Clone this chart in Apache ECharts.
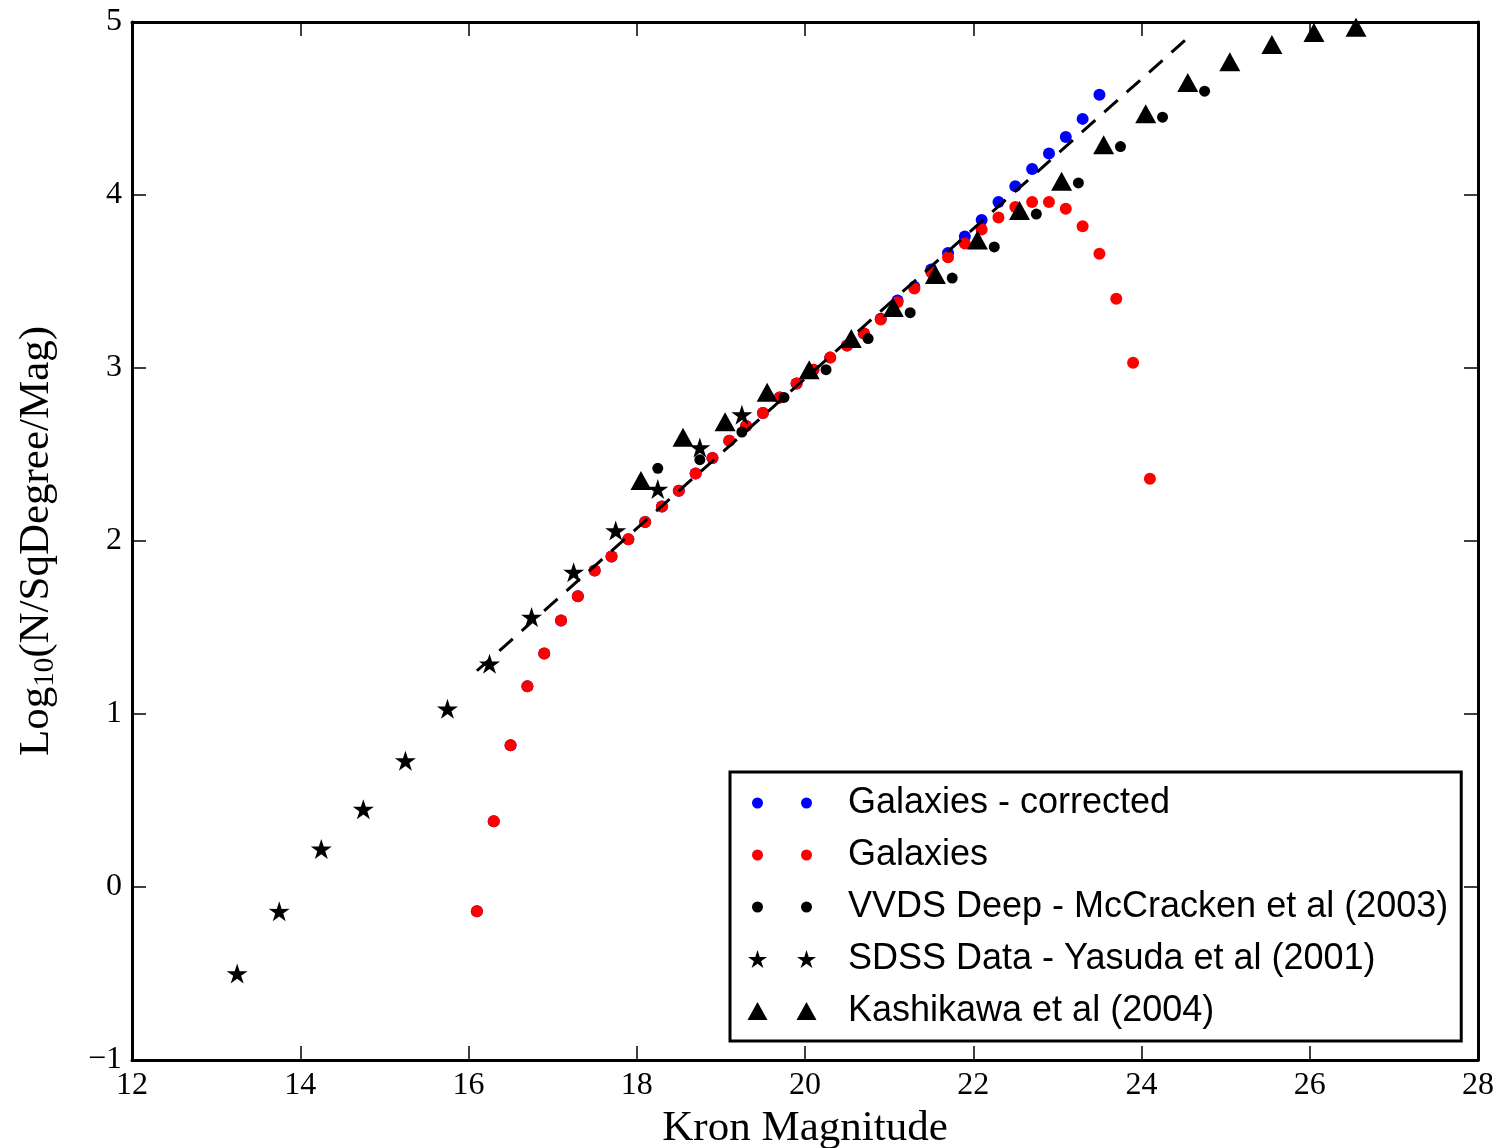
<!DOCTYPE html>
<html>
<head>
<meta charset="utf-8">
<script src="https://cdn.jsdelivr.net/npm/echarts@6/dist/echarts.min.js"></script>
<style>html,body{margin:0;padding:0;background:#fff;}#c{width:1501px;height:1148px;}</style>
</head>
<body>
<div id="c"></div>
<script>
// Galaxies (red) and corrected galaxies (blue)
const galMag = [16.1,16.3,16.5,16.7,16.9,17.1,17.3,17.5,17.7,17.9,18.1,18.3,18.5,18.7,18.9,19.1,19.3,19.5,19.7,19.9,20.1,20.3,20.5,20.7,20.9,21.1,21.3,21.5,21.7,21.9,22.1,22.3,22.5,22.7,22.9,23.1,23.3,23.5,23.7,23.9,24.1];
const galLog = [-0.14,0.38,0.82,1.16,1.35,1.54,1.68,1.83,1.91,2.01,2.11,2.20,2.29,2.39,2.48,2.58,2.665,2.74,2.83,2.91,2.99,3.06,3.13,3.20,3.28,3.38,3.46,3.555,3.64,3.72,3.80,3.87,3.93,3.96,3.96,3.92,3.82,3.66,3.40,3.03,2.36];
const corMag = [16.1,16.3,16.5,16.7,16.9,17.1,17.3,17.5,17.7,17.9,18.1,18.3,18.5,18.7,18.9,19.1,19.3,19.5,19.7,19.9,20.1,20.3,20.5,20.7,20.9,21.1,21.3,21.5,21.7,21.9,22.1,22.3,22.5,22.7,22.9,23.1,23.3,23.5];
const corLog = [-0.14,0.38,0.82,1.16,1.35,1.54,1.68,1.83,1.91,2.01,2.11,2.20,2.29,2.39,2.48,2.58,2.665,2.74,2.83,2.91,2.99,3.06,3.13,3.20,3.285,3.39,3.47,3.57,3.665,3.76,3.855,3.96,4.05,4.15,4.24,4.335,4.44,4.58];
// VVDS Deep - McCracken et al (2003)
const vvdsMag = [18.25,18.75,19.25,19.75,20.25,20.75,21.25,21.75,22.25,22.75,23.25,23.75,24.25,24.75];
const vvdsLog = [2.42,2.47,2.63,2.83,2.99,3.17,3.32,3.52,3.70,3.89,4.07,4.28,4.45,4.60];
// SDSS Data - Yasuda et al (2001)
const sdssMag = [13.25,13.75,14.25,14.75,15.25,15.75,16.25,16.75,17.25,17.75,18.25,18.75,19.25];
const sdssLog = [-0.50,-0.14,0.22,0.45,0.73,1.03,1.29,1.56,1.82,2.06,2.30,2.54,2.73];
// Kashikawa et al (2004)
const kashMag = [18.05,18.55,19.05,19.55,20.05,20.55,21.05,21.55,22.05,22.55,23.05,23.55,24.05,24.55,25.05,25.55,26.05,26.55];
const kashLog = [2.35,2.60,2.69,2.86,2.99,3.17,3.35,3.54,3.74,3.91,4.08,4.29,4.47,4.65,4.77,4.87,4.94,4.97];
// dashed fit line
const fitMag = [16.1, 24.6];
const fitLog = [1.25, 4.93];

const names = ['Galaxies - corrected','Galaxies','VVDS Deep - McCracken et al (2003)','SDSS Data - Yasuda et al (2001)','Kashikawa et al (2004)'];

function pairs(xs, ys){ return xs.map((x,i)=>[x, ys[i]]); }

const starPath = 'path://M100,0 L122.34,69.26 L195.11,69.1 L136.14,111.74 L158.78,180.9 L100,138 L41.22,180.9 L63.86,111.74 L4.89,69.1 L77.66,69.26 Z';
const legDots = 'path://M0,0 M70,20 M5,10 A5.5,5.5 0 1,0 16,10 A5.5,5.5 0 1,0 5,10 Z M54,10 A5.5,5.5 0 1,0 65,10 A5.5,5.5 0 1,0 54,10 Z';
const legTri = 'path://M0,0 M70,20 M10.5,1 L20.5,19 L0.5,19 Z M59.5,1 L69.5,19 L49.5,19 Z';
const legStar = 'path://M0,0 M70,20 M10.5,1 L12.73,7.93 L20.01,7.91 L14.11,12.17 L16.38,19.09 L10.5,14.8 L4.62,19.09 L6.89,12.17 L0.99,7.91 L8.27,7.93 Z M59.5,1 L61.73,7.93 L69.01,7.91 L63.11,12.17 L65.38,19.09 L59.5,14.8 L53.62,19.09 L55.89,12.17 L49.99,7.91 L57.27,7.93 Z';

const serif = 'Liberation Serif';
const tickStyle = {show:true, inside:true, length:14, lineStyle:{color:'#000', width:1.5}};
const lineStyle = {show:true, onZero:false, lineStyle:{color:'#000', width:3}};

const chart = echarts.init(document.getElementById('c'), null, {renderer:'canvas'});
chart.setOption({
  animation:false,
  backgroundColor:'#fff',
  grid:{left:132, top:22, width:1346, height:1038, containLabel:false, outerBoundsMode:'none'},
  xAxis:[{
    type:'value', min:12, max:28, interval:2, position:'bottom',
    axisLine:lineStyle, axisTick:tickStyle, splitLine:{show:false},
    axisLabel:{color:'#000', fontFamily:serif, fontSize:32, margin:10},
    name:'Kron Magnitude', nameLocation:'middle', nameGap:44,
    nameTextStyle:{color:'#000', fontFamily:serif, fontSize:43}
  },{
    type:'value', min:12, max:28, interval:2, position:'top',
    axisLine:lineStyle, axisTick:tickStyle, splitLine:{show:false}, axisLabel:{show:false}
  }],
  yAxis:[{
    type:'value', min:-1, max:5, interval:1, position:'left',
    axisLine:lineStyle, axisTick:tickStyle, splitLine:{show:false},
    axisLabel:{color:'#000', fontFamily:serif, fontSize:32, margin:10,
      formatter:v=>String(v).replace('-','\u2212')},
    name:'{a|Log}{s|10}{a|(N/SqDegree/Mag)}', nameLocation:'middle', nameGap:72, nameRotate:90,
    nameTextStyle:{color:'#000', fontFamily:serif, fontSize:43,
      rich:{a:{fontFamily:serif, fontSize:43, color:'#000', lineHeight:46},
            s:{fontFamily:serif, fontSize:29, color:'#000', lineHeight:30, verticalAlign:'bottom'}}}
  },{
    type:'value', min:-1, max:5, interval:1, position:'right',
    axisLine:lineStyle, axisTick:tickStyle, splitLine:{show:false}, axisLabel:{show:false}
  }],
  legend:{
    orient:'vertical', left:730, top:772, itemWidth:70, itemHeight:20, itemGap:0,
    padding:[5,13,4,17], borderColor:'#000', borderWidth:3, backgroundColor:'#fff',
    selectedMode:false, symbolKeepAspect:true,
    textStyle:{fontFamily:'Liberation Sans', fontSize:36, color:'#000', lineHeight:52, padding:[0,0,0,26]},
    data:[
      {name:names[0], icon:legDots},
      {name:names[1], icon:legDots},
      {name:names[2], icon:legDots},
      {name:names[3], icon:legStar},
      {name:names[4], icon:legTri}
    ]
  },
  series:[
    {name:names[0], type:'scatter', data:pairs(corMag,corLog), symbol:'circle', symbolSize:12, itemStyle:{color:'#0000ff', opacity:1}},
    {name:names[1], type:'scatter', data:pairs(galMag,galLog), symbol:'circle', symbolSize:12, itemStyle:{color:'#ff0000', opacity:1}},
    {name:'fit', type:'line', data:pairs(fitMag,fitLog), symbol:'none', silent:true,
      lineStyle:{color:'#000', width:3, type:[18,12]}},
    {name:names[2], type:'scatter', data:pairs(vvdsMag,vvdsLog), symbol:'circle', symbolSize:11, itemStyle:{color:'#000', opacity:1}},
    {name:names[3], type:'scatter', data:pairs(sdssMag,sdssLog), symbol:starPath, symbolSize:[21,20], itemStyle:{color:'#000', opacity:1}},
    {name:names[4], type:'scatter', data:pairs(kashMag,kashLog), symbol:'triangle', symbolSize:[21,19], itemStyle:{color:'#000', opacity:1}}
  ]
});
</script>
</body>
</html>
